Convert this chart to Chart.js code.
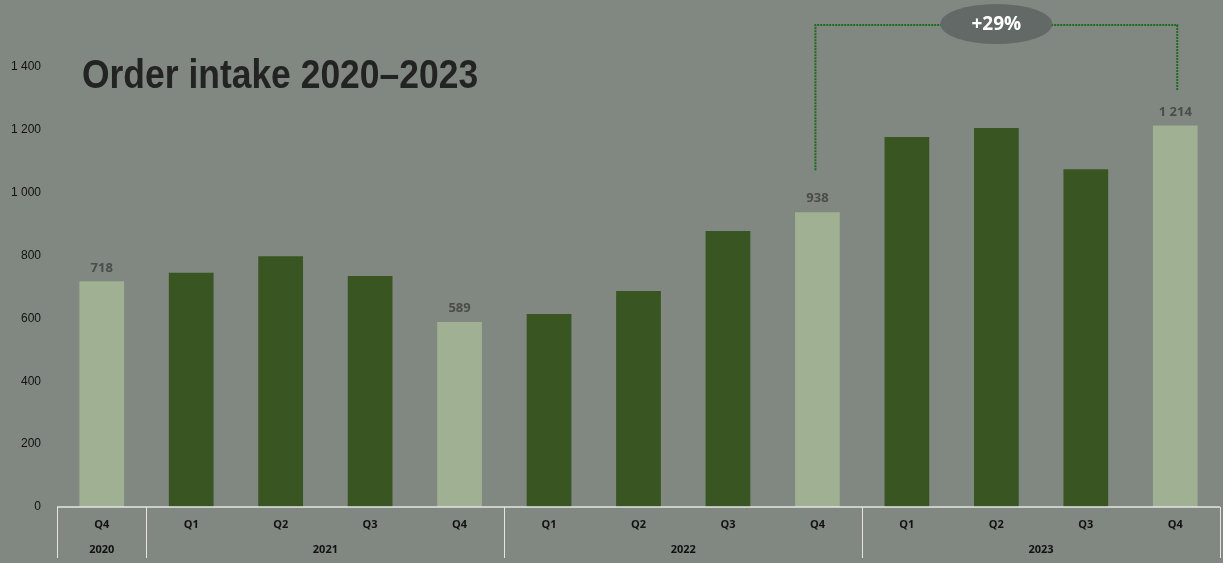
<!DOCTYPE html>
<html>
<head>
<meta charset="utf-8">
<script src="https://cdn.jsdelivr.net/npm/chart.js@4/dist/chart.umd.min.js"></script>
<style>
  html, body { margin: 0; padding: 0; background: #818881; }
  #wrap { position: relative; width: 1223px; height: 563px; }
  #title {
    position: absolute; left: 82px; top: 50px; margin: 0; white-space: nowrap;
    font-family: "Liberation Sans", Arial, sans-serif;
    font-weight: bold; font-size: 41px; line-height: 48px; color: #232323;
    transform-origin: left top;
  }
</style>
</head>
<body>
<div id="wrap">
  <canvas id="grafica" width="1223" height="563"></canvas>
  <h1 id="title">Order intake 2020–2023</h1>
</div>
<script>
const quarters = ['Q4', 'Q1', 'Q2', 'Q3', 'Q4', 'Q1', 'Q2', 'Q3', 'Q4', 'Q1', 'Q2', 'Q3', 'Q4'];
const years = [
  { label: '2020', from: 0, to: 0 },
  { label: '2021', from: 1, to: 4 },
  { label: '2022', from: 5, to: 8 },
  { label: '2023', from: 9, to: 12 }
];
const orders = [718, 745, 798, 735, 589, 614, 687, 878, 938, 1177, 1206, 1075, 1214];
const yTicks = [0, 200, 400, 600, 800, 1000, 1200, 1400];
const shownLabels = [0, 4, 8, 12];
const growth = { from: 8, to: 12, text: '+29%' };

const DARK = '#395522';
const LIGHT = '#a0b092';
const fmt = v => String(v).replace(/\B(?=(\d{3})+(?!\d))/g, ' ');

// squeeze the heading into a condensed look
const title = document.getElementById('title');
title.style.transform = 'scaleX(' + (396 / title.scrollWidth) + ')';

// value labels above the year-end bars
const valueLabels = {
  id: 'valueLabels',
  afterDatasetsDraw(chart) {
    const ctx = chart.ctx;
    const meta = chart.getDatasetMeta(0);
    ctx.save();
    ctx.font = 'bold 13px "Open Sans", sans-serif';
    ctx.fillStyle = '#4a4d4a';
    ctx.textAlign = 'center';
    ctx.textBaseline = 'bottom';
    shownLabels.forEach(i => {
      const bar = meta.data[i];
      ctx.fillText(fmt(orders[i]), bar.x, bar.y - 7);
    });
    ctx.restore();
  }
};

// two level category axis: quarters then years
const groupAxis = {
  id: 'groupAxis',
  afterDraw(chart) {
    const ctx = chart.ctx;
    const x = chart.scales.x;
    const area = chart.chartArea;
    const step = x.getPixelForValue(1) - x.getPixelForValue(0);
    const bottom = area.bottom + 51;
    ctx.save();
    ctx.strokeStyle = '#e4e6e4';
    ctx.lineWidth = 1.5;
    ctx.beginPath();
    ctx.moveTo(area.left, area.bottom);
    ctx.lineTo(area.right, area.bottom);
    ctx.stroke();
    ctx.lineWidth = 1;
    const edges = [0].concat(years.map(y => y.to + 1));
    edges.forEach(e => {
      const px = Math.round(x.getPixelForValue(e) - step / 2) + 0.5;
      ctx.beginPath();
      ctx.moveTo(px, area.bottom);
      ctx.lineTo(px, bottom);
      ctx.stroke();
    });
    ctx.fillStyle = '#111';
    ctx.textAlign = 'center';
    ctx.textBaseline = 'middle';
    ctx.font = 'bold 11px "Open Sans", sans-serif';
    quarters.forEach((q, i) => ctx.fillText(q, x.getPixelForValue(i), area.bottom + 18));
    years.forEach(y => {
      const cx = (x.getPixelForValue(y.from) + x.getPixelForValue(y.to)) / 2;
      ctx.fillText(y.label, cx, area.bottom + 43);
    });
    ctx.restore();
  }
};

// dotted bracket with growth bubble
const growthBracket = {
  id: 'growthBracket',
  afterDraw(chart) {
    const ctx = chart.ctx;
    const x = chart.scales.x;
    const y = chart.scales.y;
    const x1 = x.getPixelForValue(growth.from) - 2;
    const x2 = x.getPixelForValue(growth.to) + 2;
    const top = 25;
    ctx.save();
    ctx.strokeStyle = '#1f6a1f';
    ctx.lineWidth = 2;
    ctx.setLineDash([2, 1]);
    ctx.beginPath();
    ctx.moveTo(x1, y.getPixelForValue(orders[growth.from]) - 42);
    ctx.lineTo(x1, top);
    ctx.lineTo(x2, top);
    ctx.lineTo(x2, y.getPixelForValue(orders[growth.to]) - 35);
    ctx.stroke();
    ctx.setLineDash([]);
    const cx = (x1 + x2) / 2;
    ctx.fillStyle = '#626966';
    ctx.beginPath();
    ctx.ellipse(cx, 24, 56, 20, 0, 0, Math.PI * 2);
    ctx.fill();
    ctx.fillStyle = '#ffffff';
    ctx.font = 'bold 19px "Open Sans", sans-serif';
    ctx.textAlign = 'center';
    ctx.textBaseline = 'middle';
    ctx.fillText(growth.text, cx, 25);
    ctx.restore();
  }
};

const graph = document.getElementById('grafica');
const myChart = new Chart(graph, {
  type: 'bar',
  data: {
    labels: quarters,
    datasets: [{
      data: orders,
      backgroundColor: quarters.map(q => q === 'Q4' ? LIGHT : DARK),
      barPercentage: 0.5,
      categoryPercentage: 1
    }]
  },
  options: {
    responsive: false,
    animation: false,
    layout: { padding: { top: 67, bottom: 56, right: 3, left: 0 } },
    plugins: { legend: { display: false }, tooltip: { enabled: false } },
    scales: {
      x: { display: false },
      y: {
        min: 0,
        max: 1400,
        afterFit: s => { s.width = 57; },
        afterBuildTicks: s => { s.ticks = yTicks.map(v => ({ value: v })); },
        grid: { display: false },
        border: { display: false },
        ticks: {
          padding: 8,
          color: '#111',
          font: { family: '"Liberation Sans", Arial, sans-serif', size: 12 },
          callback: v => fmt(v)
        }
      }
    }
  },
  plugins: [valueLabels, groupAxis, growthBracket]
});
</script>
</body>
</html>
